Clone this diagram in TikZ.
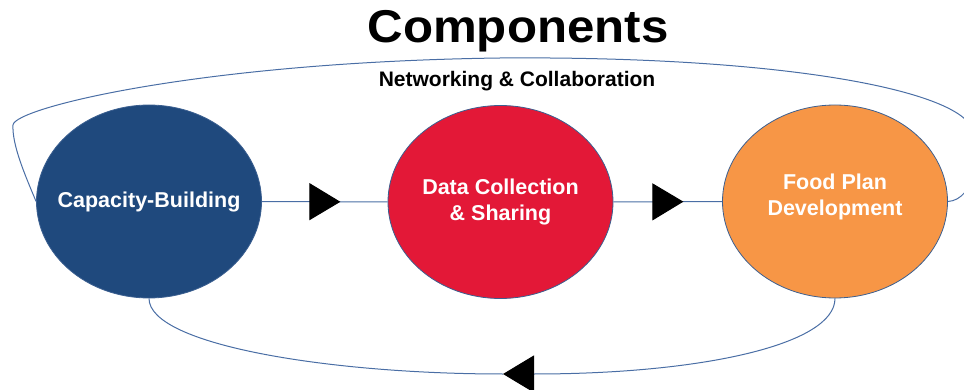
\documentclass[tikz,border=0pt]{standalone}
\usepackage{fontspec}
\setmainfont{Liberation Sans}
\usetikzlibrary{shapes.geometric,arrows.meta,decorations.markings}
\definecolor{cbblue}{HTML}{1F497D}
\definecolor{dcred}{HTML}{E31837}
\definecolor{fporange}{HTML}{F79646}
\definecolor{edgeblue}{HTML}{3B5F90}
\definecolor{connblue}{HTML}{4A6EA5}
\tikzset{
  comp/.style={ellipse, draw=edgeblue, line width=0.8pt, minimum width=225pt, minimum height=193pt, inner sep=0pt},
  comptext/.style={text=white, font=\bfseries\fontsize{21.5}{26}\selectfont, align=center},
  conn/.style={draw=connblue, line width=1pt},
  tri/.style={-{Triangle[length=31pt,width=37pt,color=black]}},
  midtri/.style={postaction={decorate}, decoration={markings, mark=at position #1 with {\arrow[black]{Triangle[length=31pt,width=37pt]}}}}
}
\begin{document}
\begin{tikzpicture}[x=1pt,y=-1pt]
\useasboundingbox (0,0) rectangle (964,390);
\node (title) at (518,31) {\fontsize{46}{50}\selectfont\bfseries\scalebox{1.07}[1]{Components}};
\node (net) at (517,81) {\fontsize{21}{24}\selectfont\bfseries Networking \& Collaboration};
\node[comp, fill=cbblue, label={[comptext]center:Capacity-Building}] (cb) at (149,201.5) {};
\node[comp, fill=dcred, label={[comptext]center:{Data Collection\\\& Sharing}}] (dc) at (500.5,202) {};
\node[comp, fill=fporange, label={[comptext, yshift=5pt]center:{Food Plan\\Development}}] (fp) at (835,201.5) {};
\coordinate (lc) at (13,125);
\coordinate (tp) at (500,58);
\coordinate (rc) at (966,120);
\coordinate (bm) at (503,374);
% top loop
\draw[conn] (cb.west) .. controls (25,175) and (12,145) .. (lc)
  .. controls (14,108) and (200,62) .. (tp)
  .. controls (760,56) and (930,85) .. (rc)
  .. controls (985,150) and (975,200) .. (fp.east);
% forward connectors
\draw[conn, midtri=78.5pt] (cb.east) -- (dc.west);
\draw[conn, midtri=70pt] (dc.east) -- (fp.west);
% bottom return
\draw[conn, tri] (fp.south) .. controls (835,345) and (700,374) .. (bm);
\draw[conn] (bm) .. controls (330,374) and (149,345) .. (cb.south);
\end{tikzpicture}
\end{document}
